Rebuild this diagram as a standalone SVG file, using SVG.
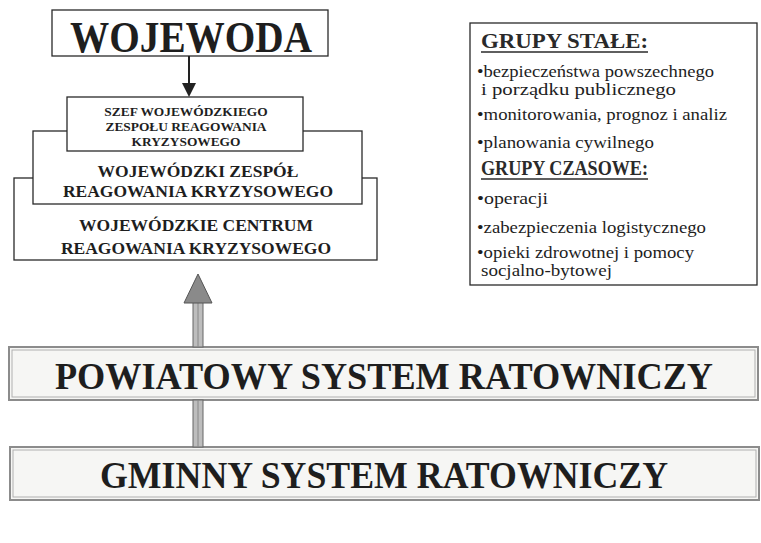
<svg xmlns="http://www.w3.org/2000/svg" width="761" height="543" viewBox="0 0 761 543">
<style>
.box{fill:#fff;stroke:#2a2a2a;stroke-width:1.3}
.sys{fill:#f6f6f4;stroke:#8c8c8c;stroke-width:2}
.sysin{fill:none;stroke:#b0b0b0;stroke-width:1}
.b{font-family:"Liberation Serif","Times New Roman",serif;font-weight:bold;fill:#1e1e1e;text-anchor:middle}
.r{font-family:"Liberation Serif","Times New Roman",serif;fill:#1e1e1e;font-size:17px}
.h{font-family:"Liberation Serif","Times New Roman",serif;font-weight:bold;fill:#2a2a2a;font-size:21px}
</style>
<rect width="761" height="543" fill="#fff"/>
<g id="wojewodzkie-centrum">
<rect class="box" x="14" y="178" width="363" height="82"/>
<text class="b" font-size="17.5" x="196" y="231">WOJEWÓDZKIE CENTRUM</text>
<text class="b" font-size="17.5" x="196" y="254">REAGOWANIA KRYZYSOWEGO</text>
</g>
<g id="wojewodzki-zespol">
<rect class="box" x="33" y="131" width="329" height="73"/>
<text class="b" font-size="17.5" x="198" y="177">WOJEWÓDZKI ZESPÓŁ</text>
<text class="b" font-size="17.5" x="198" y="197">REAGOWANIA KRYZYSOWEGO</text>
</g>
<g id="szef">
<rect class="box" x="67" y="97" width="236" height="54"/>
<text class="b" font-size="13.4" x="186" y="116">SZEF WOJEWÓDZKIEGO</text>
<text class="b" font-size="13.4" x="186" y="131">ZESPOŁU REAGOWANIA</text>
<text class="b" font-size="13.4" x="186" y="146">KRYZYSOWEGO</text>
</g>
<g id="wojewoda">
<rect class="box" x="52" y="10" width="276" height="46"/>
<text class="b" font-size="45" x="191" y="52" textLength="242" lengthAdjust="spacingAndGlyphs">WOJEWODA</text>
</g>
<g id="grupy">
<rect class="box" x="470" y="23" width="287" height="262"/>
<text class="h" x="481" y="48" textLength="167" lengthAdjust="spacingAndGlyphs">GRUPY STAŁE:</text>
<line x1="481" y1="52" x2="648" y2="52" stroke="#2a2a2a" stroke-width="1.5"/>
<text class="r" x="477" y="77" textLength="237" lengthAdjust="spacingAndGlyphs">•bezpieczeństwa powszechnego</text>
<text class="r" x="481" y="95" textLength="195" lengthAdjust="spacingAndGlyphs">i porządku publicznego</text>
<text class="r" x="477" y="120" textLength="250" lengthAdjust="spacingAndGlyphs">•monitorowania, prognoz i analiz</text>
<text class="r" x="477" y="148" textLength="177" lengthAdjust="spacingAndGlyphs">•planowania cywilnego</text>
<text class="h" x="481" y="175" textLength="167" lengthAdjust="spacingAndGlyphs">GRUPY CZASOWE:</text>
<line x1="481" y1="179" x2="648" y2="179" stroke="#2a2a2a" stroke-width="1.5"/>
<text class="r" x="477" y="204" textLength="71" lengthAdjust="spacingAndGlyphs">•operacji</text>
<text class="r" x="477" y="233" textLength="229" lengthAdjust="spacingAndGlyphs">•zabezpieczenia logistycznego</text>
<text class="r" x="477" y="258" textLength="217" lengthAdjust="spacingAndGlyphs">•opieki zdrowotnej i pomocy</text>
<text class="r" x="481" y="276" textLength="131" lengthAdjust="spacingAndGlyphs">socjalno-bytowej</text>
</g>
<g id="powiatowy">
<rect class="sys" x="9" y="347" width="749" height="53"/>
<rect class="sysin" x="12" y="350" width="743" height="47"/>
<text class="b" font-size="38" x="384" y="389" textLength="658" lengthAdjust="spacingAndGlyphs">POWIATOWY SYSTEM RATOWNICZY</text>
</g>
<g id="gminny">
<rect class="sys" x="10" y="447" width="749" height="53"/>
<rect class="sysin" x="13" y="450" width="743" height="47"/>
<text class="b" font-size="38" x="384" y="488" textLength="568" lengthAdjust="spacingAndGlyphs">GMINNY SYSTEM RATOWNICZY</text>
</g>
<g id="connectors">
<line x1="189" y1="56" x2="189" y2="84" stroke="#222" stroke-width="2"/>
<polygon points="182,83 196,83 189,97" fill="#222"/>
<rect x="193" y="302" width="10" height="45" fill="#bdbdbd" stroke="#666" stroke-width="1"/>
<line x1="198" y1="302" x2="198" y2="347" stroke="#888" stroke-width="1"/>
<rect x="193" y="400" width="10" height="47" fill="#bdbdbd" stroke="#666" stroke-width="1"/>
<line x1="198" y1="400" x2="198" y2="447" stroke="#888" stroke-width="1"/>
<polygon points="198,274 212,303 184,303" fill="#8a8a8a" stroke="#555" stroke-width="1"/>
</g>
</svg>
